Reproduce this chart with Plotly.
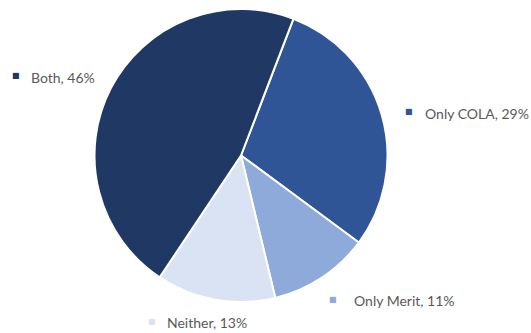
import plotly.graph_objects as go

# Share of respondents by type of pay increase
categories = ["Only COLA", "Only Merit", "Neither", "Both"]
shares = [29, 11, 13, 46]
slice_colors = ["#2f5597", "#8eaadb", "#dae3f3", "#203864"]

W, H = 531, 333

fig = go.Figure(
    go.Pie(
        labels=categories,
        values=shares,
        sort=False,
        direction="clockwise",
        rotation=21,
        textinfo="none",
        hoverinfo="label+percent",
        marker=dict(colors=slice_colors, line=dict(color="white", width=2)),
        domain=dict(x=[0, 482 / W], y=[1 - 302 / H, 1 - 9 / H]),
        showlegend=False,
    )
)

# outside label positions (pixels): legend-key square, then text start, baseline centre
label_pos = {
    "Both": (16, 29, 77),
    "Only COLA": (409, 423, 113),
    "Only Merit": (333, 352, 300),
    "Neither": (152, 165, 322),
}

annotations = []
for cat, val, col in zip(categories, shares, slice_colors):
    sq_x, tx_x, y = label_pos[cat]
    annotations.append(
        dict(
            x=sq_x / W, y=1 - (y - 1) / H, xref="paper", yref="paper",
            text="■", showarrow=False, xanchor="center", yanchor="middle",
            font=dict(family="DejaVu Sans", size=8, color=col),
        )
    )
    annotations.append(
        dict(
            x=tx_x / W, y=1 - y / H, xref="paper", yref="paper",
            text=f"{cat}, {val}%", showarrow=False, xanchor="left", yanchor="middle",
            font=dict(family="Lato", size=14, color="#595959"),
        )
    )

fig.update_layout(
    width=W,
    height=H,
    margin=dict(l=0, r=0, t=0, b=0),
    paper_bgcolor="white",
    plot_bgcolor="white",
    annotations=annotations,
)

fig.write_html("out.html")
